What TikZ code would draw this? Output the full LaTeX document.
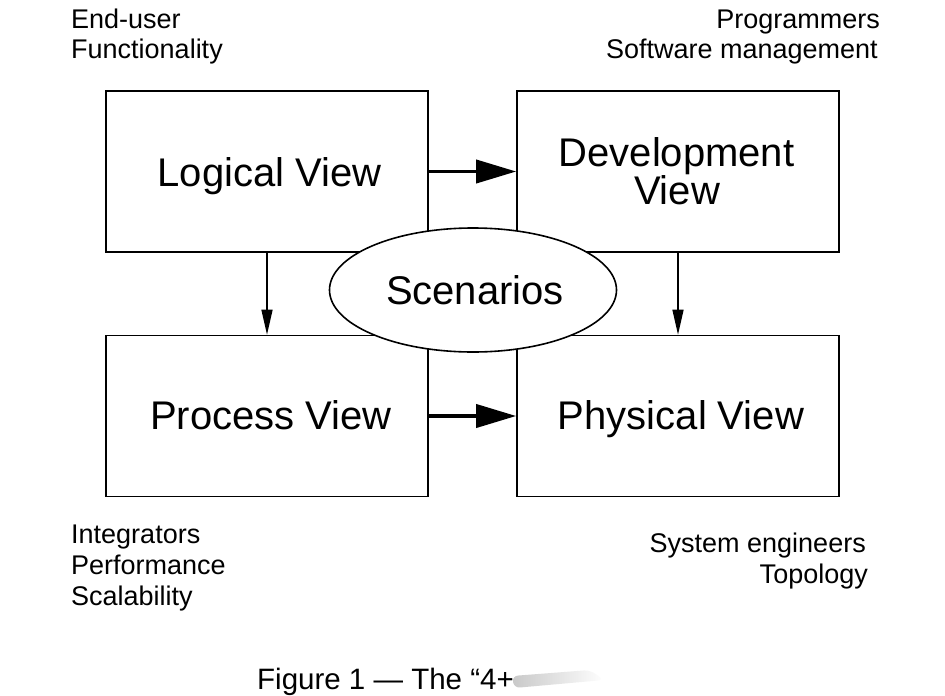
\documentclass[tikz,border=0pt]{standalone}
\usepackage{fontspec}
\setmainfont{Liberation Sans}
\usetikzlibrary{shapes.geometric,arrows.meta,fadings}
\begin{document}
\begin{tikzpicture}[x=1pt,y=-1pt,
  viewbox/.style={draw, line width=1.6pt, minimum width=322pt, minimum height=161pt, inner sep=0pt},
  boxtext/.style={inner sep=0pt, anchor=base, font=\fontsize{40}{46}\selectfont},
  bigarrow/.style={line width=3.8pt, -{Triangle[length=40pt,width=23pt]}},
  smallarrow/.style={line width=1.4pt, -{Triangle[length=25pt,width=11pt]}},
  lbl/.style={inner sep=0pt, font=\fontsize{27}{31}\selectfont}]
\useasboundingbox (0,0) rectangle (945,696);
\clip (0,0) rectangle (945,696);
\fill[white] (0,0) rectangle (945,696);
% boxes
\node[viewbox] (logical) at (267,171.5) {};
\node[viewbox] (dev) at (678,171.5) {};
\node[viewbox] (process) at (267,416) {};
\node[viewbox] (physical) at (678,416) {};
\node[boxtext] (logicalt) at (269.5,186) {Logical View};
\node[boxtext] (devt1) at (676.5,166) {Development};
\node[boxtext] (devt2) at (677,204) {View};
\node[boxtext] (processt) at (271,429) {Process View};
\node[boxtext] (physicalt) at (681,429) {Physical View};
% arrows
\draw[bigarrow] (logical.east) -- (dev.west);
\draw[bigarrow] (process.east) -- (physical.west);
\draw[smallarrow] (logical.south) -- (process.north);
\draw[smallarrow] (dev.south) -- (physical.north);
% scenarios
\node[draw, fill=white, ellipse, line width=1.6pt, minimum width=287pt, minimum height=124pt, inner sep=0pt] (scen) at (473,290) {};
\node[boxtext] (scent) at (475,304) {Scenarios};
% labels
\node[lbl, anchor=base west] (enduser) at (71,28) {End-user};
\node[lbl, anchor=base west] (func) at (71,58) {Functionality};
\node[lbl, anchor=base east] (prog) at (880,28) {Programmers};
\node[lbl, anchor=base east] (swm) at (878,58) {Software management};
\node[lbl, anchor=base west] (integ) at (71,543) {Integrators};
\node[lbl, anchor=base west] (perf) at (71,574) {Performance};
\node[lbl, anchor=base west] (scal) at (71,605) {Scalability};
\node[lbl, anchor=base east] (syseng) at (866,552) {System engineers};
\node[lbl, anchor=base east] (topo) at (868,583) {Topology};
\node[inner sep=0pt, anchor=base west, font=\fontsize{29.5}{34}\selectfont] (caption) at (257,689) {Figure 1 — The “4+};
% soft smear after caption
\fill[black!30, path fading=east, opacity=0.7, rounded corners=6pt] (512,676) -- (590,670) -- (604,680) -- (514,688) -- cycle;
\end{tikzpicture}
\end{document}
